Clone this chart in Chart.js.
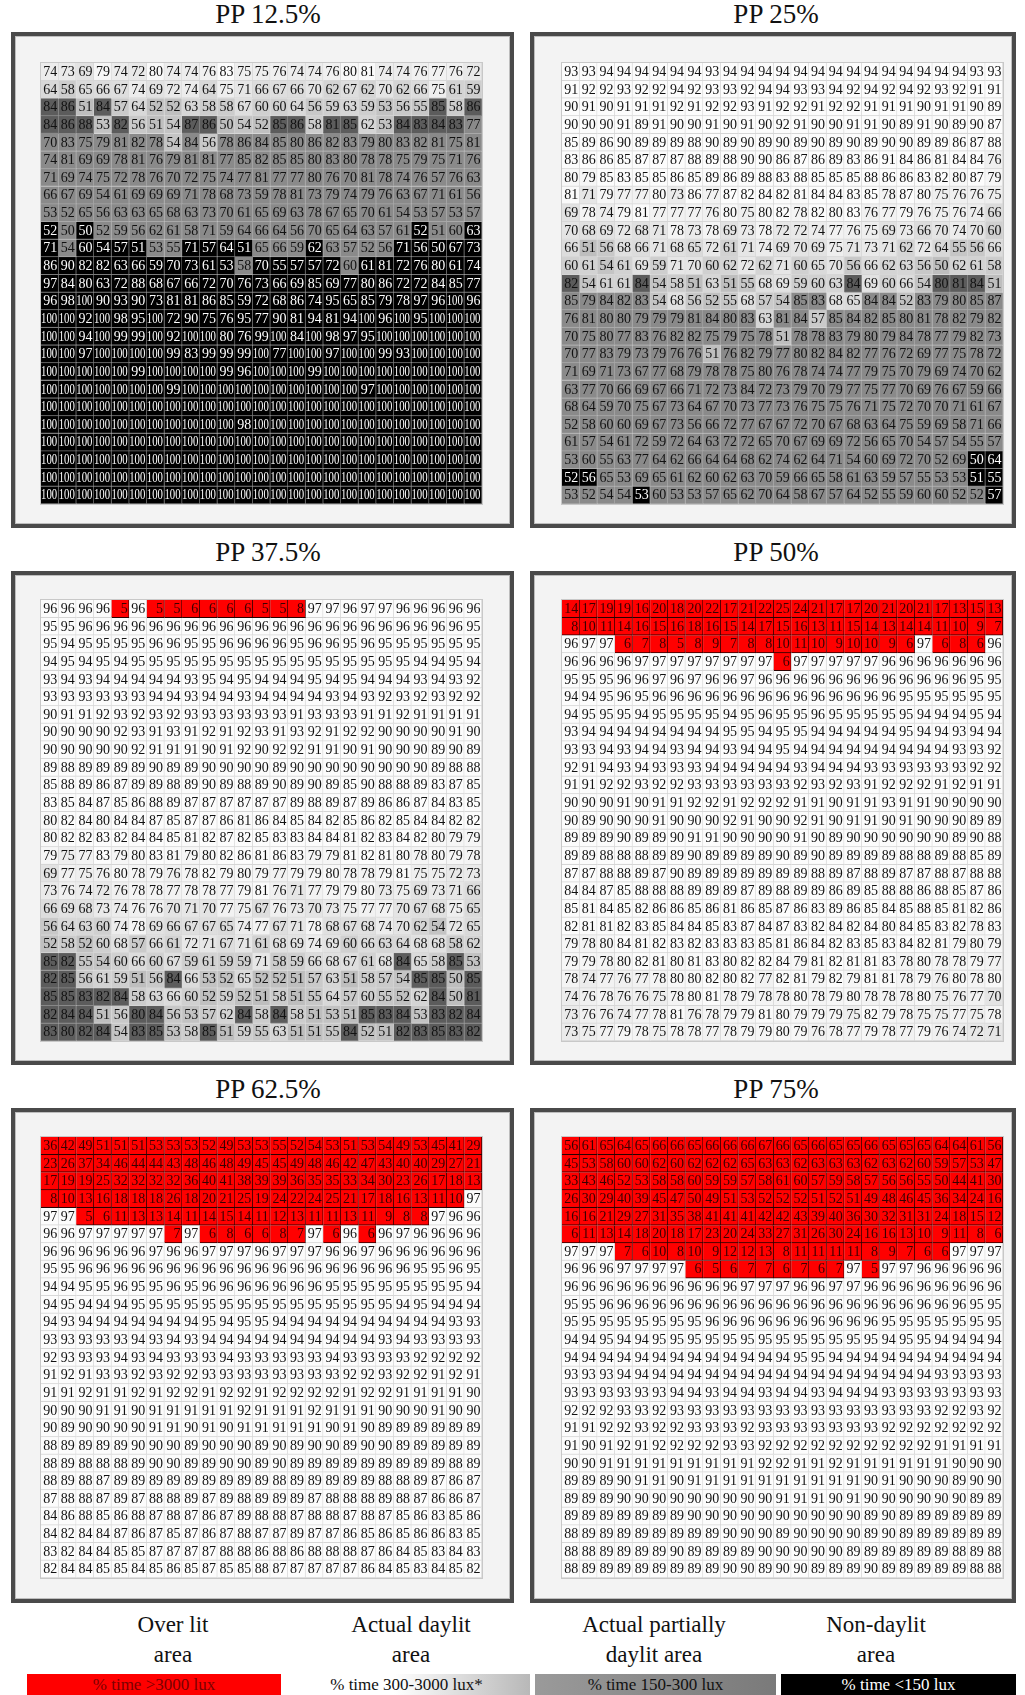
<!DOCTYPE html>
<html>
<head>
<meta charset="utf-8">
<script src="https://cdn.jsdelivr.net/npm/chart.js@4.4.1/dist/chart.umd.min.js"></script>
<style>
  html, body { margin: 0; padding: 0; background: #fff; }
  body { width: 1025px; height: 1695px; position: relative; overflow: hidden; font-family: "Liberation Serif", "DejaVu Serif", serif; }
  .title { position: absolute; font-size: 27px; color: #111; text-align: center; white-space: nowrap; }
  .frame { position: absolute; box-sizing: border-box; border: 4px solid #4a4a4a; background: #f3f3f3; box-shadow: inset 0 0 0 1px #bdbdbd; }
  .grid { position: absolute; border: 1px solid #c8c8c8; }
  canvas { display: block; }
  .lg-label { position: absolute; font-size: 23px; line-height: 30px; text-align: center; color: #111; }
  .lg-box { position: absolute; height: 21px; font-size: 17px; line-height: 21px; text-align: center; box-sizing: border-box; }
</style>
</head>
<body>
<script>
// Column labels (25 grid columns across the room)
const columns = ["1","2","3","4","5","6","7","8","9","10","11","12","13","14","15","16","17","18","19","20","21","22","23","24","25"];

// Panel titles
const panelTitles = ["PP 12.5%", "PP 25%", "PP 37.5%", "PP 50%", "PP 62.5%", "PP 75%"];

// Cell classes: R = over lit (>3000 lux), D = daylit (300-3000 lux),
// G = partially daylit (150-300 lux), P = partially daylit (dark tone), N = non-daylit (<150 lux)
const values125 = [
  [74,73,69,79,74,72,80,74,74,76,83,75,75,76,74,74,76,80,81,74,74,76,77,76,72],
  [64,58,65,66,67,74,69,72,74,64,75,71,66,67,66,70,62,67,62,70,62,66,75,61,59],
  [84,86,51,84,57,64,52,52,63,58,58,67,60,60,64,56,59,63,59,53,56,55,85,58,86],
  [84,86,88,53,82,56,51,54,87,86,50,54,52,85,86,58,81,85,62,53,84,83,84,83,77],
  [70,83,75,79,81,82,78,54,84,56,78,86,84,85,80,86,82,83,79,80,83,82,81,75,81],
  [74,81,69,69,78,81,76,79,81,81,77,85,82,85,85,80,83,80,78,78,75,79,75,71,76],
  [71,69,74,75,72,78,76,70,72,75,74,77,81,77,77,80,76,70,81,78,74,76,57,76,63],
  [66,67,69,54,61,69,69,69,71,78,68,73,59,78,81,73,79,74,79,76,63,67,71,61,56],
  [53,52,65,56,63,63,65,68,63,73,70,61,65,69,63,78,67,65,70,61,54,53,57,53,57],
  [52,50,50,52,59,56,62,61,58,71,59,64,66,64,56,70,65,64,63,57,61,52,51,60,63],
  [71,54,60,54,57,51,53,55,71,57,64,51,65,66,59,62,63,57,52,56,71,56,50,67,73],
  [86,90,82,82,63,66,59,70,73,61,53,58,70,55,57,57,72,60,61,81,72,76,80,61,74],
  [97,84,80,63,72,88,68,67,66,72,70,76,73,66,69,85,69,77,80,86,72,72,84,85,77],
  [96,98,100,90,93,90,73,81,81,86,85,59,72,68,86,74,95,65,85,79,78,97,96,100,96],
  [100,100,92,100,98,95,100,72,90,75,76,95,77,90,81,94,81,94,100,96,100,95,100,100,100],
  [100,100,94,100,99,99,100,92,100,100,80,76,99,100,84,100,98,97,95,100,100,100,100,100,100],
  [100,100,97,100,100,100,100,99,83,99,99,99,100,77,100,100,97,100,100,99,93,100,100,100,100],
  [100,100,100,100,100,99,100,100,100,100,99,96,100,100,100,99,100,100,100,100,100,100,100,100,100],
  [100,100,100,100,100,100,100,99,100,100,100,100,100,100,100,100,100,100,97,100,100,100,100,100,100],
  [100,100,100,100,100,100,100,100,100,100,100,100,100,100,100,100,100,100,100,100,100,100,100,100,100],
  [100,100,100,100,100,100,100,100,100,100,100,98,100,100,100,100,100,100,100,100,100,100,100,100,100],
  [100,100,100,100,100,100,100,100,100,100,100,100,100,100,100,100,100,100,100,100,100,100,100,100,100],
  [100,100,100,100,100,100,100,100,100,100,100,100,100,100,100,100,100,100,100,100,100,100,100,100,100],
  [100,100,100,100,100,100,100,100,100,100,100,100,100,100,100,100,100,100,100,100,100,100,100,100,100],
  [100,100,100,100,100,100,100,100,100,100,100,100,100,100,100,100,100,100,100,100,100,100,100,100,100]
];
const classes125 = [
  "DDDDDDDDDDDDDDDDDDDDDDDDD",
  "DDDDDDDDDDDDDDDDDDDDDDDDD",
  "PPDPDDDDDDDDDDDDDDDDDDPDP",
  "PPPDPDDDPPDDDPPDPPDDPPPPG",
  "GGGGGGGDGDGGGGGGGGGGGGGGG",
  "GGGGGGGGGGGGGGGGGGGGGGGGG",
  "GGGGGGGGGGGGGGGGGGGGGGGGG",
  "GGGGGGGGGGGGGGGGGGGGGGGGG",
  "GGGGGGGGGGGGGGGGGGGGGGGGG",
  "NGNGGGGGGGGGGGGGGGGGGNGGN",
  "NGNNNNGGNNNNGGGNGGGGNNNNN",
  "NNNNNNNNNNNGNNNNNGNNNNNNN",
  "NNNNNNNNNNNNNNNNNNNNNNNNN",
  "NNNNNNNNNNNNNNNNNNNNNNNNN",
  "NNNNNNNNNNNNNNNNNNNNNNNNN",
  "NNNNNNNNNNNNNNNNNNNNNNNNN",
  "NNNNNNNNNNNNNNNNNNNNNNNNN",
  "NNNNNNNNNNNNNNNNNNNNNNNNN",
  "NNNNNNNNNNNNNNNNNNNNNNNNN",
  "NNNNNNNNNNNNNNNNNNNNNNNNN",
  "NNNNNNNNNNNNNNNNNNNNNNNNN",
  "NNNNNNNNNNNNNNNNNNNNNNNNN",
  "NNNNNNNNNNNNNNNNNNNNNNNNN",
  "NNNNNNNNNNNNNNNNNNNNNNNNN",
  "NNNNNNNNNNNNNNNNNNNNNNNNN"
];

const values25 = [
  [93,93,94,94,94,94,94,94,93,94,94,94,94,94,94,94,94,94,94,94,94,94,94,93,93],
  [91,92,92,93,92,92,94,92,93,93,92,94,94,93,93,94,92,94,92,94,92,93,92,91,91],
  [90,91,90,91,91,91,92,91,92,92,93,91,92,92,91,92,92,91,91,91,90,91,91,90,89],
  [90,90,90,91,89,91,90,90,91,90,91,90,92,91,90,90,91,91,90,89,91,90,89,90,87],
  [85,89,86,90,89,89,89,88,90,89,90,89,90,89,90,89,90,89,90,90,89,89,86,87,88],
  [83,86,86,85,87,87,87,88,89,88,90,90,86,87,86,89,83,86,91,84,86,81,84,84,76],
  [80,79,85,83,85,85,86,85,89,86,89,88,83,88,85,85,85,88,86,86,83,82,80,87,79],
  [81,71,79,77,77,80,73,86,77,87,82,84,82,81,84,84,83,85,78,87,80,75,76,76,75],
  [69,78,74,79,81,77,77,77,76,80,75,80,82,78,82,80,83,76,77,79,76,75,76,74,66],
  [70,68,69,72,68,71,78,73,78,69,73,78,72,72,74,77,76,75,69,73,66,70,74,70,60],
  [66,51,56,68,66,71,68,65,72,61,71,74,69,70,69,75,71,73,71,62,72,64,55,56,66],
  [60,61,54,61,69,59,71,70,60,62,72,62,71,60,65,70,56,66,62,63,56,50,62,61,58],
  [82,54,61,61,84,54,58,51,63,51,55,68,69,59,60,63,84,69,60,66,54,80,81,84,51],
  [85,79,84,82,83,54,68,56,52,55,68,57,54,85,83,68,65,84,84,52,83,79,80,85,87],
  [76,81,80,80,79,79,79,81,84,80,83,63,81,84,57,85,84,82,85,80,81,78,82,79,82],
  [70,75,80,77,83,76,82,82,75,79,75,78,51,78,78,83,79,80,79,84,78,77,79,82,73],
  [70,77,83,79,73,79,76,76,51,76,82,79,77,80,82,84,82,77,76,72,69,77,75,78,72],
  [71,69,71,73,67,77,68,79,78,78,75,80,76,78,74,74,77,79,75,70,79,69,74,70,62],
  [63,77,70,66,69,67,66,71,72,73,84,72,73,79,70,79,77,75,77,70,69,76,67,59,66],
  [68,64,59,70,75,67,73,64,67,70,73,77,73,76,75,75,76,71,75,72,70,70,71,61,67],
  [52,58,60,60,69,67,73,56,66,72,77,67,67,72,70,67,68,63,64,75,59,69,58,71,66],
  [61,57,54,61,72,59,72,64,63,72,72,65,70,67,69,69,72,56,65,70,54,57,54,55,57],
  [53,60,55,63,77,64,62,66,64,64,68,62,74,62,64,71,54,60,69,72,70,52,69,50,64],
  [52,56,65,53,69,65,61,62,60,62,63,70,59,66,65,58,61,63,59,57,55,53,53,51,55],
  [53,52,54,54,53,60,53,53,57,65,62,70,64,58,67,57,64,52,55,59,60,60,52,52,57]
];
const classes25 = [
  "DDDDDDDDDDDDDDDDDDDDDDDDD",
  "DDDDDDDDDDDDDDDDDDDDDDDDD",
  "DDDDDDDDDDDDDDDDDDDDDDDDD",
  "DDDDDDDDDDDDDDDDDDDDDDDDD",
  "DDDDDDDDDDDDDDDDDDDDDDDDD",
  "DDDDDDDDDDDDDDDDDDDDDDDDD",
  "DDDDDDDDDDDDDDDDDDDDDDDDD",
  "DDDDDDDDDDDDDDDDDDDDDDDDD",
  "DDDDDDDDDDDDDDDDDDDDDDDDD",
  "DDDDDDDDDDDDDDDDDDDDDDDDD",
  "DDDDDDDDDDDDDDDDDDDDDDDDD",
  "DDDDDDDDDDDDDDDDDDDDDDDDD",
  "PDDDPDDDDDDDDDDDPDDDDPPPD",
  "GGGGGDDDDDDDDGGDDGGDGGGGG",
  "GGGGGGGGGGGDGGDGGGGGGGGGG",
  "GGGGGGGGGGGGDGGGGGGGGGGGG",
  "GGGGGGGGDGGGGGGGGGGGGGGGG",
  "GGGGGGGGGGGGGGGGGGGGGGGGG",
  "GGGGGGGGGGGGGGGGGGGGGGGGG",
  "GGGGGGGGGGGGGGGGGGGGGGGGG",
  "GGGGGGGGGGGGGGGGGGGGGGGGG",
  "GGGGGGGGGGGGGGGGGGGGGGGGG",
  "GGGGGGGGGGGGGGGGGGGGGGGNN",
  "NNGGGGGGGGGGGGGGGGGGGGGNN",
  "GGGGNGGGGGGGGGGGGGGGGGGGN"
];

const values375 = [
  [96,96,96,96,5,96,5,5,6,6,6,6,5,5,8,97,97,96,97,97,96,96,96,96,96],
  [95,95,96,96,96,96,96,96,96,96,96,96,96,96,96,96,96,96,96,96,96,96,96,96,95],
  [95,94,95,95,95,95,96,96,95,95,96,96,96,96,95,96,96,95,96,95,95,95,95,95,95],
  [94,95,94,95,94,95,95,95,95,95,95,95,95,95,95,95,95,95,95,95,95,94,94,95,94],
  [93,94,93,94,94,94,94,94,93,95,94,95,94,94,94,95,94,95,94,94,94,93,94,93,92],
  [93,93,93,93,93,93,94,94,93,94,94,93,94,94,94,94,93,94,93,92,93,92,93,92,92],
  [90,91,91,92,93,92,93,92,93,93,93,93,93,93,91,93,93,93,91,91,92,91,91,91,91],
  [90,90,90,90,92,93,91,93,91,92,91,92,93,91,93,92,91,92,92,90,90,90,90,91,90],
  [90,90,90,90,90,92,91,91,91,90,91,92,90,92,92,91,91,90,91,90,90,90,89,90,89],
  [89,88,89,89,89,89,90,89,89,90,90,90,90,89,90,90,90,90,90,90,90,90,89,88,88],
  [85,88,89,86,87,89,89,88,89,90,89,88,89,90,89,90,89,85,90,88,88,89,83,87,85],
  [83,85,84,87,85,86,88,89,87,87,87,87,87,87,89,88,89,87,89,86,86,87,84,83,85],
  [80,82,84,80,84,84,87,85,87,87,86,81,86,84,85,84,82,85,86,82,85,84,84,82,82],
  [80,82,82,83,82,84,84,85,81,82,87,82,85,83,83,84,84,81,82,83,84,82,80,79,79],
  [79,75,77,83,79,80,83,81,79,80,82,86,81,86,83,79,79,81,82,81,80,78,80,79,78],
  [69,77,75,76,80,78,79,76,78,82,79,80,79,77,79,79,80,78,78,79,81,75,75,72,73],
  [73,76,74,72,76,78,78,77,78,78,77,79,81,76,71,77,79,79,80,73,75,69,73,71,66],
  [66,69,68,73,74,76,76,70,71,70,77,75,67,76,73,70,73,75,77,77,70,67,68,75,65],
  [56,64,63,60,74,78,69,66,67,67,65,74,77,67,71,78,68,67,68,74,70,62,54,72,65],
  [52,58,52,60,68,57,66,61,72,71,67,71,61,68,69,74,69,60,66,63,64,68,68,58,62],
  [85,82,55,54,60,66,60,67,59,61,59,59,71,58,59,66,68,67,61,68,84,65,58,85,53],
  [82,85,56,61,59,51,56,84,66,53,52,65,52,52,51,57,63,51,58,57,54,85,85,50,85],
  [85,85,83,82,84,58,63,66,60,52,59,52,51,58,51,55,64,57,60,55,52,62,84,50,81],
  [82,84,84,51,56,80,84,56,53,57,62,84,58,84,58,51,53,51,85,83,84,53,83,82,84],
  [83,80,82,84,54,83,85,53,58,85,51,59,55,63,51,51,55,84,52,51,82,83,85,83,82]
];
const classes375 = [
  "DDDDRDRRRRRRRRRDDDDDDDDDD",
  "DDDDDDDDDDDDDDDDDDDDDDDDD",
  "DDDDDDDDDDDDDDDDDDDDDDDDD",
  "DDDDDDDDDDDDDDDDDDDDDDDDD",
  "DDDDDDDDDDDDDDDDDDDDDDDDD",
  "DDDDDDDDDDDDDDDDDDDDDDDDD",
  "DDDDDDDDDDDDDDDDDDDDDDDDD",
  "DDDDDDDDDDDDDDDDDDDDDDDDD",
  "DDDDDDDDDDDDDDDDDDDDDDDDD",
  "DDDDDDDDDDDDDDDDDDDDDDDDD",
  "DDDDDDDDDDDDDDDDDDDDDDDDD",
  "DDDDDDDDDDDDDDDDDDDDDDDDD",
  "DDDDDDDDDDDDDDDDDDDDDDDDD",
  "DDDDDDDDDDDDDDDDDDDDDDDDD",
  "DDDDDDDDDDDDDDDDDDDDDDDDD",
  "DDDDDDDDDDDDDDDDDDDDDDDDD",
  "DDDDDDDDDDDDDDDDDDDDDDDDD",
  "DDDDDDDDDDDDDDDDDDDDDDDDD",
  "DDDDDDDDDDDDDDDDDDDDDDDDD",
  "DDDDDDDDDDDDDDDDDDDDDDDDD",
  "PPDDDDDDDDDDDDDDDDDDPDDPD",
  "PPDDDDDPDDDDDDDDDDDDDPPDP",
  "PPPPPDDDDDDDDDDDDDDDDDPDP",
  "PPPDDPPDDDDPDPDDDDPPPDPPP",
  "PPPPDPPDDPDDDDDDDPDDPPPPP"
];

const values50 = [
  [14,17,19,19,16,20,18,20,22,17,21,22,25,24,21,17,17,20,21,20,21,17,13,15,13],
  [8,10,11,14,16,15,16,18,16,15,14,17,15,16,13,11,15,14,13,14,14,11,10,9,7],
  [96,97,97,6,7,8,5,8,9,7,8,8,10,11,10,9,10,10,9,6,97,6,8,6,96],
  [96,96,96,96,97,97,97,97,97,97,97,97,6,97,97,97,97,97,96,96,96,96,96,96,96],
  [95,95,95,96,96,97,96,97,96,96,97,96,96,96,96,96,96,96,96,96,96,96,96,95,95],
  [94,94,95,96,95,96,96,96,96,96,96,96,96,96,96,96,96,96,96,95,95,95,95,95,95],
  [94,95,95,95,94,95,95,95,95,94,95,96,95,95,96,95,95,95,95,95,94,94,94,95,94],
  [93,94,94,94,94,94,94,94,94,95,95,94,95,95,94,94,94,94,94,95,94,94,93,94,94],
  [93,93,94,93,94,94,93,94,94,93,94,94,95,94,94,94,94,94,94,94,94,94,93,93,92],
  [92,91,94,93,94,93,93,93,94,94,94,94,94,93,94,94,94,93,93,93,93,93,93,92,92],
  [91,91,92,92,93,92,92,93,93,93,93,93,93,92,93,92,93,91,92,92,92,91,92,91,91],
  [90,90,90,91,90,91,91,92,92,91,92,92,92,91,91,90,91,91,93,91,91,90,90,90,90],
  [90,89,90,90,90,91,90,90,90,92,91,90,90,92,91,90,91,91,90,91,90,90,90,89,89],
  [89,89,89,90,89,89,90,91,91,90,90,90,90,91,90,89,90,90,90,90,90,90,89,90,88],
  [89,89,88,88,88,89,89,90,89,89,89,89,90,89,90,89,89,89,89,88,88,89,88,85,89],
  [87,87,88,88,89,87,90,89,89,89,89,89,89,89,88,89,87,88,89,87,87,88,87,88,88],
  [84,84,87,85,88,88,88,89,89,89,87,89,88,89,89,86,89,85,88,88,86,88,85,87,86],
  [85,81,84,85,82,86,86,85,86,81,86,85,87,86,83,89,86,85,84,85,88,85,81,82,86],
  [82,81,81,82,83,85,84,84,85,83,87,84,87,83,82,84,82,84,80,84,85,83,82,78,83],
  [79,78,80,84,81,82,83,82,83,83,83,85,81,86,84,82,83,85,83,84,82,81,79,80,79],
  [79,79,78,80,82,81,80,81,83,80,82,82,84,79,81,82,81,81,83,78,80,78,78,79,77],
  [78,74,77,76,77,78,80,80,82,80,82,77,82,81,79,82,79,81,81,78,79,76,80,78,80],
  [74,76,78,76,76,75,78,80,81,78,79,78,78,80,78,79,80,78,78,78,80,75,76,77,70],
  [73,76,76,74,77,78,81,76,78,79,79,81,80,79,79,79,75,82,79,78,75,75,77,75,78],
  [73,75,77,79,78,75,78,78,77,78,79,79,80,79,76,78,77,79,78,77,79,76,74,72,71]
];
const classes50 = [
  "RRRRRRRRRRRRRRRRRRRRRRRRR",
  "RRRRRRRRRRRRRRRRRRRRRRRRR",
  "DDDRRRRRRRRRRRRRRRRRDRRRD",
  "DDDDDDDDDDDDRDDDDDDDDDDDD",
  "DDDDDDDDDDDDDDDDDDDDDDDDD",
  "DDDDDDDDDDDDDDDDDDDDDDDDD",
  "DDDDDDDDDDDDDDDDDDDDDDDDD",
  "DDDDDDDDDDDDDDDDDDDDDDDDD",
  "DDDDDDDDDDDDDDDDDDDDDDDDD",
  "DDDDDDDDDDDDDDDDDDDDDDDDD",
  "DDDDDDDDDDDDDDDDDDDDDDDDD",
  "DDDDDDDDDDDDDDDDDDDDDDDDD",
  "DDDDDDDDDDDDDDDDDDDDDDDDD",
  "DDDDDDDDDDDDDDDDDDDDDDDDD",
  "DDDDDDDDDDDDDDDDDDDDDDDDD",
  "DDDDDDDDDDDDDDDDDDDDDDDDD",
  "DDDDDDDDDDDDDDDDDDDDDDDDD",
  "DDDDDDDDDDDDDDDDDDDDDDDDD",
  "DDDDDDDDDDDDDDDDDDDDDDDDD",
  "DDDDDDDDDDDDDDDDDDDDDDDDD",
  "DDDDDDDDDDDDDDDDDDDDDDDDD",
  "DDDDDDDDDDDDDDDDDDDDDDDDD",
  "DDDDDDDDDDDDDDDDDDDDDDDDD",
  "DDDDDDDDDDDDDDDDDDDDDDDDD",
  "DDDDDDDDDDDDDDDDDDDDDDDDD"
];

const values625 = [
  [36,42,49,51,51,51,53,53,53,52,49,53,53,55,52,54,53,51,53,54,49,53,45,41,29],
  [23,26,37,34,46,44,44,43,48,46,48,49,45,45,49,48,46,42,47,43,40,40,29,27,21],
  [17,19,19,25,32,32,32,32,36,40,41,38,39,39,36,35,35,33,34,30,23,26,17,18,13],
  [8,10,13,16,18,18,18,26,18,20,21,25,19,24,22,24,25,21,17,18,16,13,11,10,97],
  [97,97,5,6,11,13,13,14,11,14,15,14,11,12,13,11,11,13,11,9,8,8,97,96,96],
  [96,96,97,97,97,97,97,7,97,6,8,6,6,8,7,97,6,96,6,96,97,96,96,96,96],
  [96,96,96,96,96,96,97,96,96,97,97,97,96,97,97,97,96,96,97,96,96,96,96,96,96],
  [95,95,96,96,96,96,96,96,96,96,96,96,96,96,96,96,96,96,96,96,96,95,95,96,95],
  [94,94,95,95,96,95,95,96,95,96,96,96,96,96,96,96,95,95,95,95,95,95,95,95,94],
  [94,95,94,94,94,95,95,95,95,95,95,95,95,95,95,95,95,95,95,95,94,95,94,94,94],
  [94,93,94,94,94,94,94,94,94,95,94,95,95,94,94,94,94,94,94,94,94,94,94,93,93],
  [93,93,93,93,93,94,93,94,93,94,94,94,94,94,94,94,94,94,94,93,94,93,93,93,93],
  [92,93,93,93,94,93,94,93,93,93,94,93,93,93,93,93,94,93,93,93,93,92,92,92,92],
  [91,92,91,93,93,92,93,92,92,93,93,93,93,93,93,93,93,92,92,93,92,92,91,92,91],
  [91,91,92,91,91,92,91,92,92,91,92,92,91,92,92,92,92,91,92,92,91,91,91,91,90],
  [90,90,90,91,91,90,91,91,91,91,91,92,91,91,91,92,91,91,91,90,90,90,91,90,90],
  [90,89,90,90,90,90,91,91,90,91,90,91,91,91,91,91,90,91,90,89,89,89,89,89,89],
  [88,89,89,89,89,90,90,90,89,90,90,90,89,90,89,90,90,89,90,90,89,89,89,89,89],
  [88,89,88,88,88,89,90,90,89,89,90,90,89,90,89,89,89,89,89,89,89,89,89,88,89],
  [88,89,88,87,89,89,89,89,89,89,89,89,89,88,89,89,89,89,89,88,88,89,87,86,87],
  [87,88,88,87,89,87,88,88,89,87,89,88,89,89,89,87,88,88,88,89,88,87,86,86,87],
  [84,86,88,85,86,88,87,88,87,86,87,89,88,88,87,88,88,87,88,87,85,86,83,85,86],
  [84,82,84,84,87,86,87,85,87,86,87,88,87,87,89,87,87,86,85,86,85,86,86,83,85],
  [83,82,84,84,85,85,87,87,87,87,88,88,86,88,86,88,88,88,87,86,84,85,83,84,83],
  [82,84,84,85,85,84,85,86,85,87,85,85,88,87,87,87,87,87,86,84,85,83,84,85,82]
];
const classes625 = [
  "RRRRRRRRRRRRRRRRRRRRRRRRR",
  "RRRRRRRRRRRRRRRRRRRRRRRRR",
  "RRRRRRRRRRRRRRRRRRRRRRRRR",
  "RRRRRRRRRRRRRRRRRRRRRRRRD",
  "DDRRRRRRRRRRRRRRRRRRRRDDD",
  "DDDDDDDRDRRRRRRDRDRDDDDDD",
  "DDDDDDDDDDDDDDDDDDDDDDDDD",
  "DDDDDDDDDDDDDDDDDDDDDDDDD",
  "DDDDDDDDDDDDDDDDDDDDDDDDD",
  "DDDDDDDDDDDDDDDDDDDDDDDDD",
  "DDDDDDDDDDDDDDDDDDDDDDDDD",
  "DDDDDDDDDDDDDDDDDDDDDDDDD",
  "DDDDDDDDDDDDDDDDDDDDDDDDD",
  "DDDDDDDDDDDDDDDDDDDDDDDDD",
  "DDDDDDDDDDDDDDDDDDDDDDDDD",
  "DDDDDDDDDDDDDDDDDDDDDDDDD",
  "DDDDDDDDDDDDDDDDDDDDDDDDD",
  "DDDDDDDDDDDDDDDDDDDDDDDDD",
  "DDDDDDDDDDDDDDDDDDDDDDDDD",
  "DDDDDDDDDDDDDDDDDDDDDDDDD",
  "DDDDDDDDDDDDDDDDDDDDDDDDD",
  "DDDDDDDDDDDDDDDDDDDDDDDDD",
  "DDDDDDDDDDDDDDDDDDDDDDDDD",
  "DDDDDDDDDDDDDDDDDDDDDDDDD",
  "DDDDDDDDDDDDDDDDDDDDDDDDD"
];

const values75 = [
  [56,61,65,64,65,66,66,65,66,66,66,67,66,65,66,65,65,66,65,65,65,64,64,61,56],
  [45,53,58,60,60,62,60,62,62,62,65,63,63,62,63,63,63,62,63,62,60,59,57,53,47],
  [33,43,46,52,53,58,58,60,59,59,57,58,61,60,57,59,58,57,56,56,55,50,44,41,30],
  [26,30,29,40,39,45,47,50,49,51,53,52,52,52,51,52,51,49,48,46,45,36,34,24,16],
  [16,16,21,29,27,31,35,38,41,41,41,42,42,43,39,40,36,30,32,31,31,24,18,15,12],
  [6,11,13,14,18,20,18,17,23,20,24,33,27,31,26,30,24,16,16,13,10,9,11,8,6],
  [97,97,97,7,6,10,8,10,9,12,12,13,8,11,11,11,11,8,9,7,6,6,97,97,97],
  [96,96,96,97,97,97,97,6,5,6,7,7,6,7,6,7,97,5,97,97,96,96,96,96,96],
  [96,96,96,96,96,96,96,96,96,96,97,97,97,96,96,97,97,96,96,96,96,96,96,96,96],
  [95,95,96,96,96,96,96,96,96,96,96,96,96,96,96,96,96,96,96,96,96,96,96,95,95],
  [95,95,95,95,95,95,95,95,96,96,96,96,96,96,96,96,96,96,95,95,95,95,95,95,95],
  [94,94,95,94,94,95,95,95,95,95,95,95,95,95,95,95,95,95,94,95,95,94,94,94,94],
  [94,94,94,94,94,94,94,94,94,94,94,94,94,95,95,94,94,94,94,94,94,94,94,94,94],
  [93,93,93,94,94,94,94,94,94,94,94,94,94,94,94,94,94,94,94,94,94,93,93,93,93],
  [93,93,93,93,93,93,94,94,93,94,94,93,94,94,93,94,94,94,93,93,93,93,93,93,93],
  [92,92,92,93,93,92,93,93,93,93,93,93,93,93,93,93,93,93,93,93,93,92,92,93,92],
  [91,91,92,92,93,92,92,93,93,93,92,93,93,93,93,93,93,93,92,92,92,92,92,92,92],
  [91,90,91,92,91,92,92,92,92,93,93,92,92,92,92,92,92,92,92,92,92,91,91,91,91],
  [90,90,91,91,91,91,91,91,91,91,91,92,92,91,91,92,91,91,91,91,91,91,90,90,90],
  [89,89,89,90,91,91,90,91,91,91,91,91,91,91,91,91,91,90,91,90,90,90,89,90,90],
  [89,89,89,90,90,90,90,90,90,90,90,90,91,91,91,90,91,90,90,90,90,90,90,89,89],
  [89,89,89,89,89,89,89,90,90,90,90,90,90,90,90,90,90,89,90,89,89,89,89,89,89],
  [88,89,89,89,89,89,89,89,89,90,90,90,89,90,90,90,90,89,90,89,89,89,89,89,89],
  [88,88,89,89,89,89,90,89,89,89,89,90,90,90,90,90,89,89,89,89,89,89,88,89,88],
  [88,89,89,89,89,89,89,89,89,90,90,89,90,90,89,89,89,90,89,89,89,89,89,88,88]
];
const classes75 = [
  "RRRRRRRRRRRRRRRRRRRRRRRRR",
  "RRRRRRRRRRRRRRRRRRRRRRRRR",
  "RRRRRRRRRRRRRRRRRRRRRRRRR",
  "RRRRRRRRRRRRRRRRRRRRRRRRR",
  "RRRRRRRRRRRRRRRRRRRRRRRRR",
  "RRRRRRRRRRRRRRRRRRRRRRRRR",
  "DDDRRRRRRRRRRRRRRRRRRRDDD",
  "DDDDDDDRRRRRRRRRDRDDDDDDD",
  "DDDDDDDDDDDDDDDDDDDDDDDDD",
  "DDDDDDDDDDDDDDDDDDDDDDDDD",
  "DDDDDDDDDDDDDDDDDDDDDDDDD",
  "DDDDDDDDDDDDDDDDDDDDDDDDD",
  "DDDDDDDDDDDDDDDDDDDDDDDDD",
  "DDDDDDDDDDDDDDDDDDDDDDDDD",
  "DDDDDDDDDDDDDDDDDDDDDDDDD",
  "DDDDDDDDDDDDDDDDDDDDDDDDD",
  "DDDDDDDDDDDDDDDDDDDDDDDDD",
  "DDDDDDDDDDDDDDDDDDDDDDDDD",
  "DDDDDDDDDDDDDDDDDDDDDDDDD",
  "DDDDDDDDDDDDDDDDDDDDDDDDD",
  "DDDDDDDDDDDDDDDDDDDDDDDDD",
  "DDDDDDDDDDDDDDDDDDDDDDDDD",
  "DDDDDDDDDDDDDDDDDDDDDDDDD",
  "DDDDDDDDDDDDDDDDDDDDDDDDD",
  "DDDDDDDDDDDDDDDDDDDDDDDDD"
];

// Legend entries
const legendNames = [["Over lit", "area"], ["Actual daylit", "area"], ["Actual partially", "daylit area"], ["Non-daylit", "area"]];
const legendRanges = ["% time >3000 lux", "% time 300-3000 lux*", "% time 150-300 lux", "% time <150 lux"];

const panels = [
  { title: panelTitles[0], values: values125, classes: classes125 },
  { title: panelTitles[1], values: values25, classes: classes25 },
  { title: panelTitles[2], values: values375, classes: classes375 },
  { title: panelTitles[3], values: values50, classes: classes50 },
  { title: panelTitles[4], values: values625, classes: classes625 },
  { title: panelTitles[5], values: values75, classes: classes75 }
];

// Page geometry for the 3 x 2 arrangement
const layout = [
  { fx: 11, fy: 32, fw: 503, fh: 496, gx: 41, gy: 63, tx: 268, ty: -1 },
  { fx: 530, fy: 32, fw: 486, fh: 496, gx: 562, gy: 63, tx: 776, ty: -1 },
  { fx: 11, fy: 571, fw: 503, fh: 494, gx: 41, gy: 600, tx: 268, ty: 537 },
  { fx: 530, fy: 571, fw: 486, fh: 494, gx: 562, gy: 600, tx: 776, ty: 537 },
  { fx: 11, fy: 1108, fw: 503, fh: 495, gx: 41, gy: 1137, tx: 268, ty: 1074 },
  { fx: 530, fy: 1108, fw: 486, fh: 495, gx: 562, gy: 1137, tx: 776, ty: 1074 }
];
const GRID = 441;

function daylitShade(v) {
  const k = Math.max(0, Math.min(62, (82 - v) * 2.0));
  const c = Math.round(252 - k);
  return `rgb(${c},${c},${c})`;
}
function fillFor(cls, v) {
  switch (cls) {
    case 'R': return '#ff0000';
    case 'G': return '#8a8a8a';
    case 'P': return '#5c5c5c';
    case 'N': return '#000000';
    default: return daylitShade(v);
  }
}
function lineFor(cls) {
  switch (cls) {
    case 'R': return '#2a0000';
    case 'G': return '#a9a9a9';
    case 'P': return '#8a8a8a';
    case 'N': return '#7a7a7a';
    default: return '#d6d6d6';
  }
}
function inkFor(cls) {
  switch (cls) {
    case 'R': return '#3a0000';
    case 'N': return '#ffffff';
    default: return '#111111';
  }
}

// Writes the number of every cell inside its bar
const cellText = {
  id: 'cellText',
  afterDatasetsDraw(chart) {
    const { ctx } = chart;
    const { values, classes } = chart.options.plugins.cellText;
    ctx.save();
    ctx.font = '14px "Liberation Serif", "Times New Roman", serif';
    ctx.textAlign = 'right';
    ctx.textBaseline = 'middle';
    chart.data.datasets.forEach((ds, r) => {
      chart.getDatasetMeta(r).data.forEach((bar, c) => {
        const p = bar.getProps(['x', 'y', 'base', 'width'], true);
        const cls = classes[r][c];
        ctx.fillStyle = inkFor(cls);
        const right = p.x + p.width / 2 - 1.5;
        const cy = (p.y + p.base) / 2 + 0.5;
        ctx.fillText(String(values[r][c]), right, cy, p.width - 1.5);
      });
    });
    ctx.restore();
  }
};

panels.forEach((panel, i) => {
  const L = layout[i];
  const t = document.createElement('div');
  t.className = 'title';
  t.textContent = panel.title;
  t.style.left = (L.tx - 100) + 'px';
  t.style.width = '200px';
  t.style.top = L.ty + 'px';
  document.body.appendChild(t);

  const f = document.createElement('div');
  f.className = 'frame';
  Object.assign(f.style, { left: L.fx + 'px', top: L.fy + 'px', width: L.fw + 'px', height: L.fh + 'px' });
  document.body.appendChild(f);

  const g = document.createElement('div');
  g.className = 'grid';
  Object.assign(g.style, { left: (L.gx - 1) + 'px', top: (L.gy - 1) + 'px', width: GRID + 'px', height: GRID + 'px' });
  const cv = document.createElement('canvas');
  cv.width = GRID; cv.height = GRID;
  g.appendChild(cv);
  document.body.appendChild(g);

  // One floating-bar dataset per grid row, spanning [row, row + 1]
  const datasets = panel.values.map((row, r) => ({
    label: 'row ' + (r + 1),
    data: row.map(() => [r, r + 1]),
    backgroundColor: (ctx) => fillFor(panel.classes[r][ctx.dataIndex], row[ctx.dataIndex]),
    borderColor: (ctx) => lineFor(panel.classes[r][ctx.dataIndex]),
    borderWidth: { top: 0, left: 0, right: 1, bottom: 1 },
    borderSkipped: false
  }));

  new Chart(cv, {
    type: 'bar',
    data: { labels: columns, datasets },
    options: {
      responsive: false,
      animation: false,
      devicePixelRatio: 1,
      layout: { padding: 0 },
      datasets: { bar: { grouped: false, barPercentage: 1, categoryPercentage: 1 } },
      scales: {
        x: { display: false, grid: { display: false } },
        y: { display: false, min: 0, max: panel.values.length, reverse: true, grid: { display: false } }
      },
      plugins: {
        legend: { display: false },
        tooltip: { enabled: false },
        cellText: { values: panel.values, classes: panel.classes }
      }
    },
    plugins: [cellText]
  });
});

// Legend below the panels
const lgCenters = [173, 411, 654, 876];
const lgBoxes = [
  { x: 27, w: 254, bg: '#ff0000', ink: '#7a0000' },
  { x: 283, w: 247, bg: 'linear-gradient(to right, #ffffff, #ffffff 45%, #b8b8b8)', ink: '#111' },
  { x: 535, w: 241, bg: 'linear-gradient(to right, #9a9a9a, #7a7a7a)', ink: '#111' },
  { x: 781, w: 235, bg: '#000000', ink: '#ffffff' }
];
legendNames.forEach((lines, i) => {
  const d = document.createElement('div');
  d.className = 'lg-label';
  d.style.left = (lgCenters[i] - 120) + 'px';
  d.style.width = '240px';
  d.style.top = '1610px';
  d.innerHTML = lines.join('<br>');
  document.body.appendChild(d);
  const b = document.createElement('div');
  b.className = 'lg-box';
  Object.assign(b.style, { left: lgBoxes[i].x + 'px', width: lgBoxes[i].w + 'px', top: '1674px', background: lgBoxes[i].bg, color: lgBoxes[i].ink });
  b.textContent = legendRanges[i];
  document.body.appendChild(b);
});
</script>
</body>
</html>
